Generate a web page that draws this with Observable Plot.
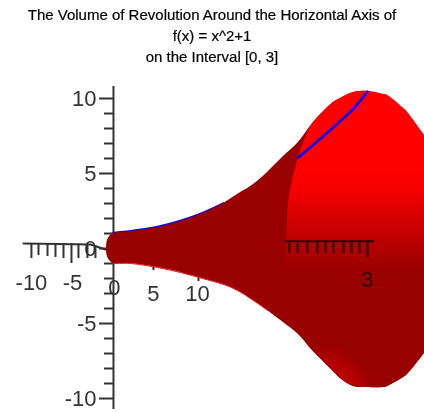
<!DOCTYPE html>
<html>
<head>
<meta charset="utf-8">
<script src="https://cdn.jsdelivr.net/npm/d3@7"></script>
<script src="https://cdn.jsdelivr.net/npm/@observablehq/plot@0.6"></script>
<style>
html,body{margin:0;padding:0;background:#fff;overflow:hidden}
#title{height:80px;width:424px;box-sizing:border-box;padding-top:4px;text-align:center;font:15px/21px "Liberation Sans",Arial,sans-serif;color:#000;filter:blur(.5px);-webkit-text-stroke:.2px #000;white-space:nowrap}
#chart svg{display:block;filter:blur(.55px)}
</style>
</head>
<body>
<div id="title">The Volume of Revolution Around the Horizontal Axis of<br>f(x) = x^2+1<br>on the Interval [0, 3]</div>
<div id="chart"></div>
<script>
// Silhouette of the projected solid
const solidX = [-0.082,-0.071,-0.035,0,0.2,0.518,0.788,1.047,1.294,1.459,1.647,1.812,2,2.176,2.353,2.588,2.671,2.824,2.988,3.176,3.224,3.412,3.459,3.659];
const solidTop = [0,0.53,0.87,1,1.13,1.4,1.8,2.33,3,3.6,4.27,5.07,6.13,7.07,8.4,9.73,10,10.4,10.47,10.27,10.2,9.33,9.07,7.53];
const solidBottom = [-0.13,-0.53,-0.87,-1,-1,-1.27,-1.6,-2,-2.4,-2.8,-3.47,-4.13,-4.93,-5.73,-6.87,-8.2,-8.67,-9.2,-9.27,-9.27,-9.2,-8.6,-8.4,-7];
// Lit far end of the solid
const bulbX = [2.035,2.047,2.059,2.082,2.106,2.141,2.176,2.212,2.247,2.294,2.353,2.588,2.671,2.824,2.988,3.176,3.224,3.412,3.459,3.659];
const bulbTop = [0.53,1.87,3,3.87,4.53,5.33,6.07,6.67,7.2,7.87,8.4,9.73,10,10.4,10.47,10.27,10.2,9.33,9.07,7.53];
const bulbBottom = [-5,-5,-5,-5,-5,-5.3,-5.6,-5.8,-6.1,-6.5,-6.87,-8.2,-8.67,-9.2,-9.27,-9.27,-9.2,-8.6,-8.4,-7];
// Blue curve, two visible pieces
const curveNearX = [0,0.2,0.518,0.788,1.047,1.294];
const curveNearY = [1.05,1.17,1.45,1.85,2.37,3.02];
const curveFarX = [2.176,2.435,2.635,2.824,2.988];
const curveFarY = [6.07,7.33,8.33,9.33,10.47];
// Vertical axis
const yMajor = [-10,-5,0,5,10];
const yMinor = [-9,-8,-7,-6,-4,-3,-2,-1,1,2,3,4,6,7,8,9];
// Depth axis (left part) and horizontal axis (right part)
const depthLineX = [-1.059,-0.27,-0.094];
const depthLineY = [0.33,0.27,-0.07];
const depthTickX = [-0.965,-0.882,-0.776,-0.682,-0.588,-0.494,-0.412,-0.306,-0.212];
const depthTickTop = [0.33,0.33,0.32,0.32,0.31,0.3,0.3,0.28,0.2];
const depthTickEnd = [-0.67,-0.47,-0.53,-0.6,-0.67,-1,-0.67,-0.67,-0.67];
const farLineX = [2.035,3.059];
const farLineY = [0.49,0.49];
const farTickX = [2.07,2.165,2.282,2.4,2.494,2.588,2.706,2.8,2.894,2.988];
const farTickEnd = [-0.33,-0.33,-0.33,-0.33,-0.33,-0.33,-0.33,-0.33,-0.33,-0.6];
const stubX = [0.47,1];
const stubTop = [-1.2,-1.87];
const stubEnd = [-1.47,-2.2];
const labelText = ["-10","-5","0","5","10"];
const labelX = [-0.965,-0.482,0.012,0.47,0.988];
const labelY = [-2.33,-2.33,-2.6,-3,-3];

const idx = a => a.map((_, i) => i);
const axisColor = "#333";

function defs() {
  const ns = "http://www.w3.org/2000/svg";
  const d = document.createElementNS(ns, "defs");
  d.innerHTML = `
  <linearGradient id="lit" gradientUnits="userSpaceOnUse" x1="0" y1="85" x2="0" y2="190">
    <stop offset="0" stop-color="#ff0000"/>
    <stop offset="0.22" stop-color="#f80000"/>
    <stop offset="1" stop-color="#990000"/>
  </linearGradient>
  <radialGradient id="glow" gradientUnits="userSpaceOnUse" cx="325" cy="315" r="50">
    <stop offset="0" stop-color="#e00000" stop-opacity="1"/>
    <stop offset="1" stop-color="#e00000" stop-opacity="0"/>
  </radialGradient>`;
  return d;
}

const plot = Plot.plot({
  width: 424,
  height: 332,
  margin: 0,
  x: {domain: [-1.329, 3.659], range: [0, 424], axis: null},
  y: {domain: [-10.933, 11.2], range: [332, 0], axis: null},
  style: {fontFamily: '"Liberation Sans",Arial,sans-serif', background: "#fff", overflow: "hidden"},
  marks: [
    defs,
    Plot.ruleX([0], {y1: -10.73, y2: 10.8, stroke: axisColor, strokeWidth: 2}),
    Plot.axisY(yMajor, {x: 0, anchor: "left", tickSize: 14, tickPadding: 3, fontSize: 22, stroke: axisColor, strokeWidth: 2, fill: axisColor, tickFormat: d => String(d)}),
    Plot.axisY(yMinor, {x: 0, anchor: "left", tickSize: 9, stroke: axisColor, strokeWidth: 2, text: null}),
    Plot.line(idx(depthLineX), {x: i => depthLineX[i], y: i => depthLineY[i], stroke: axisColor, strokeWidth: 2}),
    Plot.ruleX(idx(depthTickX), {x: i => depthTickX[i], y1: i => depthTickTop[i], y2: i => depthTickEnd[i], stroke: axisColor, strokeWidth: 2}),
    Plot.ruleX(idx(stubX), {x: i => stubX[i], y1: i => stubTop[i], y2: i => stubEnd[i], stroke: axisColor, strokeWidth: 2}),
    Plot.text(idx(labelText), {x: i => labelX[i], y: i => labelY[i], text: i => labelText[i], fontSize: 22, fill: axisColor, textAnchor: "middle"}),
    Plot.line(idx(curveNearX), {x: i => curveNearX[i], y: i => curveNearY[i], stroke: "#0000ff", strokeWidth: 2, curve: "catmull-rom"}),
    Plot.areaY(idx(solidX), {x: i => solidX[i], y1: i => solidTop[i], y2: i => solidBottom[i], fill: "#990000", curve: "catmull-rom"}),
    Plot.line(idx(solidX).slice(3, 12), {x: i => solidX[i], y: i => solidBottom[i], stroke: "#e81010", strokeWidth: 1, curve: "catmull-rom"}),
    Plot.areaY(idx(bulbX), {x: i => bulbX[i], y1: i => bulbTop[i], y2: i => bulbBottom[i], fill: "url(#lit)", curve: "catmull-rom"}),
    Plot.areaY(idx(solidX), {x: i => solidX[i], y1: i => solidTop[i], y2: i => solidBottom[i], fill: "url(#glow)", curve: "catmull-rom"}),
    Plot.line(idx(farLineX), {x: i => farLineX[i], y: i => farLineY[i], stroke: "#200000", strokeWidth: 2}),
    Plot.ruleX(idx(farTickX), {x: i => farTickX[i], y1: 0.49, y2: i => farTickEnd[i], stroke: "#200000", strokeWidth: 2}),
    Plot.text(["3"], {x: [2.988], y: [-2.07], text: d => d, fontSize: 22, fill: "#300000", textAnchor: "middle"}),
    Plot.line(idx(curveFarX), {x: i => curveFarX[i], y: i => curveFarY[i], stroke: "#0000ff", strokeWidth: 2.5, curve: "catmull-rom"})
  ]
});
document.getElementById("chart").appendChild(plot);
</script>
</body>
</html>
